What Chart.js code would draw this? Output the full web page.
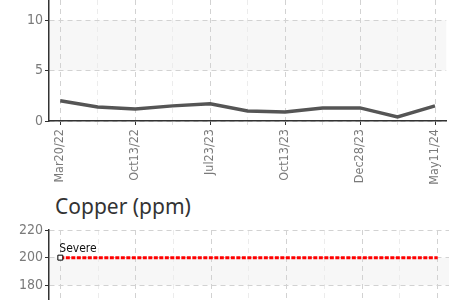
<!DOCTYPE html>
<html>
<head>
<meta charset="utf-8">
<script src="https://cdn.jsdelivr.net/npm/chart.js"></script>
<style>
  html, body { margin: 0; padding: 0; background: #fff; }
  body { width: 454px; height: 300px; position: relative; overflow: hidden; }
  #trend { position: absolute; left: 0; top: -20px; }
  #copper { position: absolute; left: 0; top: 210px; }
  .title { position: absolute; left: 55px; top: 196px; font: 21px/21px "Noto Sans", sans-serif; color: #333; white-space: nowrap; }
</style>
</head>
<body>
<canvas id="trend" width="454" height="211"></canvas>
<div class="title">Copper (ppm)</div>
<canvas id="copper" width="454" height="116"></canvas>
<script>
// x categories (only every other sample is labelled)
const dateLabels = ['Mar20/22', '', 'Oct13/22', '', 'Jul23/23', '', 'Oct13/23', '', 'Dec28/23', '', 'May11/24'];

// top chart
const trendValues = [2.0, 1.4, 1.2, 1.5, 1.7, 1.0, 0.9, 1.3, 1.3, 0.4, 1.5];
const trendTicks = [0, 5, 10];
const trendBand = [5, 10];

// copper chart
const copperSevere = [200, 200, 200, 200, 200, 200, 200, 200, 200, 200, 200];
const copperTicks = [180, 200, 220];
const copperBand = [180, 200];
const severeLabel = 'Severe';

const narrow = '"DejaVu Sans Condensed", "Liberation Sans Narrow", sans-serif';

function toPoints(values) {
    return values.map((v, i) => ({ x: i, y: v }));
}

const bandPlugin = {
    id: 'band',
    beforeDraw(chart, args, opts) {
        const { ctx, chartArea, scales } = chart;
        const yTop = scales.y.getPixelForValue(opts.range[1]);
        const yBot = scales.y.getPixelForValue(opts.range[0]);
        ctx.save();
        ctx.fillStyle = '#f7f7f7';
        ctx.fillRect(chartArea.left, yTop, chartArea.right - chartArea.left, yBot - yTop);
        ctx.restore();
    }
};

const severePlugin = {
    id: 'severeLabel',
    afterDatasetsDraw(chart, args, opts) {
        if (!opts.text) return;
        const pt = chart.getDatasetMeta(0).data[0];
        const ctx = chart.ctx;
        ctx.save();
        ctx.font = '12px ' + narrow;
        ctx.fillStyle = '#111';
        ctx.textAlign = 'left';
        ctx.textBaseline = 'bottom';
        ctx.fillText(opts.text, pt.x - 1, pt.y - 3);
        ctx.restore();
    }
};

function xScale(showLabels, height) {
    return {
        type: 'linear',
        min: -0.3,
        max: 10.3,
        afterBuildTicks: (s) => { s.ticks = dateLabels.map((_, i) => ({ value: i })); },
        afterFit: (s) => { s.height = height; },
        ticks: {
            display: showLabels,
            autoSkip: false,
            minRotation: 90,
            maxRotation: 90,
            padding: 4,
            color: '#7a7a7a',
            font: { family: narrow, size: 12.5 },
            callback: (v, i) => dateLabels[i]
        },
        grid: {
            color: (c) => c.index % 2 ? '#ececec' : '#d2d2d2',
            tickColor: (c) => c.index % 2 ? '#e0e0e0' : '#333',
            tickLength: 4
        },
        border: { color: '#333', width: 1.5, dash: [5, 4] }
    };
}

function yScale(min, max, tickValues) {
    return {
        min: min,
        max: max,
        afterBuildTicks: (s) => { s.ticks = tickValues.map(v => ({ value: v })); },
        afterFit: (s) => { s.width = 49; },
        ticks: {
            padding: 2,
            color: '#7a7a7a',
            font: { family: narrow, size: 14 }
        },
        grid: {
            color: '#d2d2d2',
            tickColor: '#333',
            tickLength: 4
        },
        border: { color: '#333', width: 1.5, dash: [5, 4] }
    };
}

new Chart('trend', {
    type: 'line',
    data: {
        datasets: [{
            data: toPoints(trendValues),
            borderColor: '#555',
            borderWidth: 3.5,
            pointRadius: 0,
            tension: 0
        }]
    },
    options: {
        responsive: false,
        animation: false,
        layout: { padding: { top: 20, left: 0, right: 0, bottom: 0 } },
        plugins: {
            legend: { display: false },
            tooltip: { enabled: false },
            band: { range: trendBand }
        },
        scales: {
            x: xScale(true, 70),
            y: yScale(0, 12, trendTicks)
        }
    },
    plugins: [bandPlugin]
});

new Chart('copper', {
    type: 'line',
    data: {
        datasets: [{
            data: toPoints(copperSevere),
            borderColor: '#ff0000',
            borderWidth: 3,
            borderDash: [4, 1.5],
            pointStyle: 'rect',
            pointRadius: (c) => c.dataIndex === 0 ? 3.5 : 0,
            pointBackgroundColor: '#fff',
            pointBorderColor: '#000',
            pointBorderWidth: 1,
            tension: 0
        }]
    },
    options: {
        responsive: false,
        animation: false,
        layout: { padding: { top: 20, left: 0, right: 0, bottom: 0 } },
        plugins: {
            legend: { display: false },
            tooltip: { enabled: false },
            band: { range: copperBand },
            severeLabel: { text: severeLabel }
        },
        scales: {
            x: xScale(false, 20),
            y: yScale(165, 220, copperTicks)
        }
    },
    plugins: [bandPlugin, severePlugin]
});
</script>
</body>
</html>
